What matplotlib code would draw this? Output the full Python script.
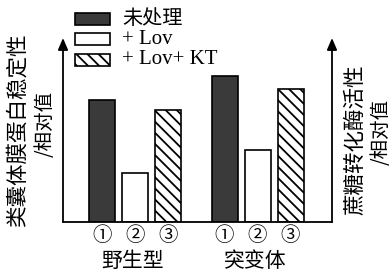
import matplotlib
matplotlib.use("Agg")
import matplotlib.pyplot as plt
from matplotlib.patches import Rectangle
import matplotlib.transforms as mtransforms

# ---- data (relative values) ----
groups = ["野生型", "突变体"]
treatments = ["未处理", "+ Lov", "+ Lov+ KT"]
tick_labels = ["①", "②", "③"]
wild_type = [122, 49, 112]
mutant = [146, 72, 133]
left_label = "类囊体膜蛋白稳定性"
right_label = "蔗糖转化酶活性"
unit_label = "/相对值"

W, H = 392, 274
fig = plt.figure(figsize=(W / 100, H / 100), dpi=100)
plt.rcParams['hatch.linewidth'] = 1.3

cjk = ['Noto Sans CJK SC', 'DejaVu Sans']
serif = ['Liberation Serif', 'DejaVu Serif']

ax_l, ax_r, ax_b, ax_t = 63, 332, 222, 38
ax = fig.add_axes([ax_l / W, 1 - ax_b / H, (ax_r - ax_l) / W, (ax_b - ax_t) / H])
ax.set_xlim(0, ax_r - ax_l)
ax.set_ylim(0, ax_b - ax_t)

styles = [dict(facecolor='#3a3a3a', hatch=None),
          dict(facecolor='white', hatch=None),
          dict(facecolor='white', hatch='\\\\\\')]
group_centers = [72, 194.5]
offset = 33
bw = 26
xs_all, labels_all = [], []
for gi, vals in enumerate([wild_type, mutant]):
    for ti, v in enumerate(vals):
        x = group_centers[gi] + (ti - 1) * offset
        st = styles[ti]
        ax.bar(x, v, width=bw, facecolor=st['facecolor'], hatch=st['hatch'],
               edgecolor='black', linewidth=1.2)
        xs_all.append(x)
        labels_all.append(tick_labels[ti])

ax.set_xticks(xs_all)
ax.set_xticklabels(labels_all, fontfamily=cjk, fontsize=14)
ax.tick_params(axis='x', length=0, pad=2)
ax.set_yticks([])
for s in ['top', 'left', 'right']:
    ax.spines[s].set_visible(False)
ax.spines['bottom'].set_linewidth(1.3)

# arrows for both axes
for xa in (0, 1):
    ax.annotate('', xy=(xa, 1.0), xytext=(xa, 0), xycoords='axes fraction',
                arrowprops=dict(arrowstyle='-|>,head_length=0.7,head_width=0.3',
                                color='black', lw=1.3, shrinkA=0, shrinkB=0),
                annotation_clip=False)

# group labels
trans = mtransforms.blended_transform_factory(ax.transData, fig.transFigure)
for gc, g in zip(group_centers, groups):
    ax.text(gc - 2, 1 - 261 / H, g, transform=trans, ha='center', va='center',
            fontfamily=cjk, fontsize=15)

# y labels
fig.text(18 / W, 1 - 130 / H, left_label, rotation=90, ha='center', va='center',
         fontfamily=cjk, fontsize=15.5)
fig.text(45 / W, 1 - 124 / H, unit_label, rotation=90, ha='center', va='center',
         fontfamily=cjk, fontsize=14)
fig.text(355 / W, 1 - 140 / H, right_label, rotation=90, ha='center', va='center',
         fontfamily=cjk, fontsize=15.5)
fig.text(381 / W, 1 - 132 / H, unit_label, rotation=90, ha='center', va='center',
         fontfamily=cjk, fontsize=14)

# legend drawn manually
rows = [19, 39, 60]
for i, (lab, st) in enumerate(zip(treatments, styles)):
    y = rows[i]
    r = Rectangle((75 / W, 1 - (y + 6) / H), 35 / W, 12 / H, transform=fig.transFigure,
                  facecolor=st['facecolor'], hatch=st['hatch'], edgecolor='black',
                  linewidth=1.2)
    fig.add_artist(r)
    fam = cjk if i == 0 else serif
    fig.text(122 / W, 1 - y / H, lab, ha='left', va='center', fontfamily=fam,
             fontsize=14.5 if i == 0 else 15)

fig.savefig("out.png", dpi=100)
